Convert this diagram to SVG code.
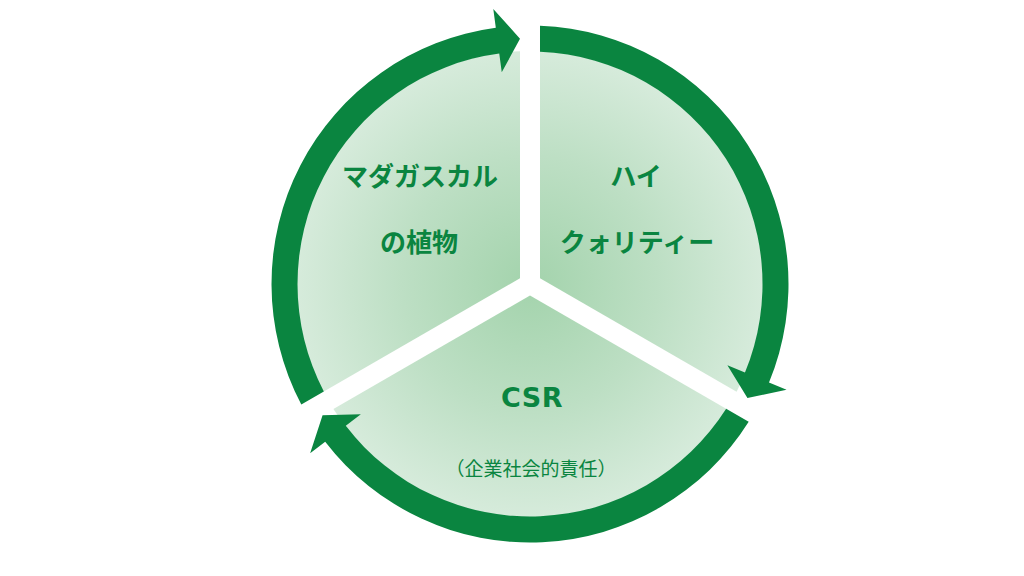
<svg xmlns="http://www.w3.org/2000/svg" xmlns:xlink="http://www.w3.org/1999/xlink" width="1024" height="576" viewBox="0 0 1024 576">
  <style>
    .sector { fill: url(#fillGrad); }
    .arrow { fill: #0a8540; }
    .label { fill: #0a8540; font-family: "Noto Sans CJK JP", "Noto Sans", sans-serif; font-weight: 700; font-size: 26px; text-anchor: middle; }
    .latin { fill: #0a8540; font-family: "DejaVu Sans", "Noto Sans", sans-serif; font-weight: 700; font-size: 27px; text-anchor: middle; letter-spacing: 0.5px; }
    .sub { fill: #0a8540; font-family: "Noto Sans CJK JP", "Noto Sans", sans-serif; font-weight: 400; font-size: 19px; text-anchor: middle; }
  </style>
  <defs>
    <radialGradient id="fillGrad" gradientUnits="userSpaceOnUse" cx="530" cy="284" r="233">
      <stop offset="0" stop-color="#a3d3ac"/>
      <stop offset="0.55" stop-color="#bddfc4"/>
      <stop offset="1" stop-color="#d6ebdb"/>
    </radialGradient>
    <path id="arrowShape" d="M301.31,404.49 A258.5,258.5 0 0 1 495.81,27.77 L493.30,8.94 L520,38.70 L501.76,72.37 L499.25,53.54 A232.5,232.5 0 0 0 323.84,391.48 Z"/>
  </defs>
  <rect width="1024" height="576" fill="#ffffff"/>

  <g id="node-madagascar">
    <path class="sector" d="M520,278.23 L520,51.21 A233,233 0 0 0 323.41,391.73 Z"/>
    <text class="label" x="420" y="186">マダガスカル</text>
    <text class="label" x="419" y="252">の植物</text>
  </g>

  <g id="node-quality">
    <path class="sector" d="M540,278.23 L540,51.21 A233,233 0 0 1 736.59,391.73 Z"/>
    <text class="label" x="636" y="186">ハイ</text>
    <text class="label" x="637" y="252">クォリティー</text>
  </g>

  <g id="node-csr">
    <path class="sector" d="M530,295.55 L726.59,409.05 A233,233 0 0 1 333.41,409.05 Z"/>
    <text class="latin" x="532" y="407">CSR</text>
    <text class="sub" x="531" y="476">（企業社会的責任）</text>
  </g>

  <g id="connectors">
    <use class="arrow" xlink:href="#arrowShape" href="#arrowShape"/>
    <use class="arrow" xlink:href="#arrowShape" href="#arrowShape" transform="rotate(120 530 284)"/>
    <use class="arrow" xlink:href="#arrowShape" href="#arrowShape" transform="rotate(240 530 284)"/>
  </g>
</svg>
